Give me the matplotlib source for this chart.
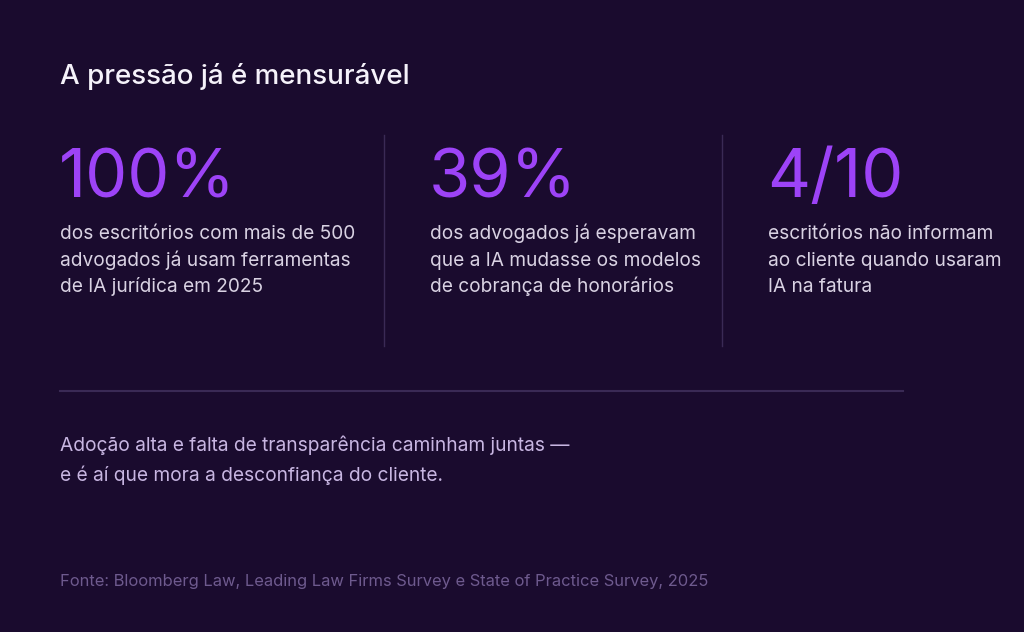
import matplotlib.pyplot as plt

# Conteúdo
titulo = "A pressão já é mensurável"
numeros = ["100%", "39%", "4/10"]
descricoes = [
    ["dos escritórios com mais de 500", "advogados já usam ferramentas", "de IA jurídica em 2025"],
    ["dos advogados já esperavam", "que a IA mudasse os modelos", "de cobrança de honorários"],
    ["escritórios não informam", "ao cliente quando usaram", "IA na fatura"],
]
conclusao = [
    "Adoção alta e falta de transparência caminham juntas —",
    "e é aí que mora a desconfiança do cliente.",
]
fonte = "Fonte: Bloomberg Law, Leading Law Firms Survey e State of Practice Survey, 2025"

# Cores
BG = "#1a0b2e"
ROXO = "#9d43f7"
TEXTO = "#d9d2e3"
CONCL = "#c8b6e2"
NOTA = "#6e5a8e"
LINHA = "#3a2a55"

W, H = 1024, 632
plt.rcParams["font.family"] = ["Inter", "DejaVu Sans"]

fig = plt.figure(figsize=(W / 100, H / 100), dpi=100, facecolor=BG)
ax = fig.add_axes([0, 0, 1, 1])
ax.set_xlim(0, W)
ax.set_ylim(H, 0)
ax.axis("off")
ax.set_facecolor(BG)


def texto(x, y, s, **kw):
    ax.text(x, y, s, va="baseline", ha="left", **kw)


texto(60, 84, titulo, fontsize=20, color="#f5f2fa", fontweight="medium")

colunas_x = [60, 430, 768]
for x, num, linhas in zip(colunas_x, numeros, descricoes):
    texto(x - 1, 197, num, fontsize=48, color=ROXO)
    for i, linha in enumerate(linhas):
        texto(x, 239 + i * 26.5, linha, fontsize=13.75, color=TEXTO)

# Divisórias
for x in [384, 722]:
    ax.plot([x, x], [135, 346], color=LINHA, lw=1)
ax.plot([60, 903], [391, 391], color=LINHA, lw=1.5)

for i, linha in enumerate(conclusao):
    texto(60, 451 + i * 30, linha, fontsize=13.8, color=CONCL)

texto(60, 586, fonte, fontsize=11.9, color=NOTA)

fig.savefig("out.png", dpi=100, facecolor=BG)
